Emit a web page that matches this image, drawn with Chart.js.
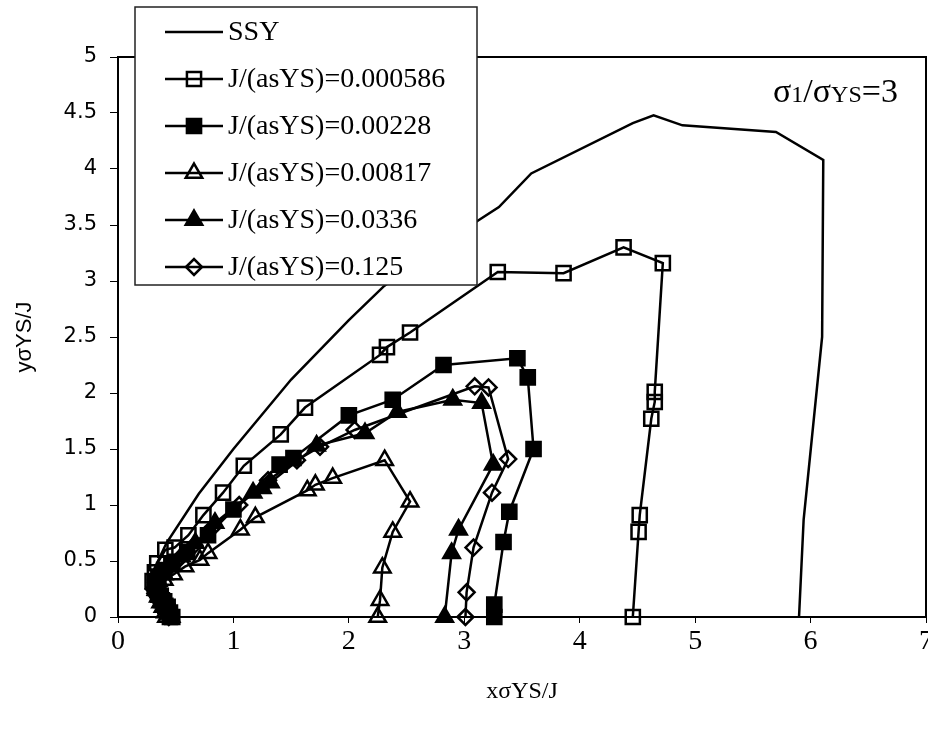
<!DOCTYPE html>
<html>
<head>
<meta charset="utf-8">
<script src="https://cdn.jsdelivr.net/npm/chart.js@4.4.1/dist/chart.umd.min.js"></script>
<style>
  html, body { margin: 0; padding: 0; background: #fff; }
</style>
</head>
<body>
<canvas id="chart" width="928" height="731"></canvas>
<script>
// legend texts, in drawing order
var seriesLabels = ['SSY', 'J/(asYS)=0.000586', 'J/(asYS)=0.00228', 'J/(asYS)=0.00817', 'J/(asYS)=0.0336', 'J/(asYS)=0.125'];
var xTitle = 'x\u03c3YS/J';
var yTitle = 'y\u03c3YS/J';

// SSY curve (no markers)
var ssyX = [0.30, 0.42, 0.70, 1.00, 1.50, 2.00, 2.30, 2.70, 3.12, 3.30, 3.58, 4.46, 4.64, 4.89, 5.70, 6.11, 6.10, 5.94, 5.90];
var ssyY = [0.40, 0.66, 1.10, 1.50, 2.12, 2.65, 2.95, 3.25, 3.54, 3.66, 3.96, 4.41, 4.48, 4.39, 4.33, 4.08, 2.50, 0.87, 0.00];

// J/(asYS)=0.000586, open squares
var s1X = [0.45, 0.43, 0.41, 0.38, 0.35, 0.32, 0.30, 0.32, 0.34, 0.41, 0.49, 0.61, 0.74, 0.91, 1.09, 1.41, 1.62, 2.27, 2.33, 2.53, 3.29, 3.86, 4.38, 4.72, 4.65, 4.65, 4.62, 4.52, 4.51, 4.46];
var s1Y = [0.00, 0.05, 0.10, 0.15, 0.20, 0.26, 0.32, 0.40, 0.48, 0.60, 0.62, 0.73, 0.91, 1.11, 1.35, 1.63, 1.87, 2.34, 2.41, 2.54, 3.08, 3.07, 3.30, 3.16, 2.01, 1.92, 1.77, 0.91, 0.76, 0.00];

// J/(asYS)=0.00228, filled squares
var s2X = [0.47, 0.45, 0.43, 0.40, 0.37, 0.34, 0.32, 0.35, 0.40, 0.47, 0.60, 0.78, 1.00, 1.40, 1.52, 2.00, 2.38, 2.82, 3.46, 3.55, 3.60, 3.39, 3.34, 3.26, 3.26];
var s2Y = [0.00, 0.04, 0.09, 0.14, 0.19, 0.24, 0.30, 0.36, 0.42, 0.48, 0.58, 0.73, 0.96, 1.36, 1.42, 1.80, 1.94, 2.25, 2.31, 2.14, 1.50, 0.94, 0.67, 0.11, 0.00];

// J/(asYS)=0.00817, open triangles
var s3X = [0.42, 0.41, 0.39, 0.37, 0.35, 0.33, 0.34, 0.40, 0.48, 0.58, 0.71, 0.78, 1.06, 1.19, 1.64, 1.71, 1.86, 2.31, 2.53, 2.38, 2.29, 2.27, 2.25];
var s3Y = [0.00, 0.04, 0.09, 0.13, 0.18, 0.24, 0.29, 0.33, 0.38, 0.45, 0.51, 0.57, 0.78, 0.89, 1.13, 1.18, 1.24, 1.40, 1.03, 0.76, 0.44, 0.15, 0.00];

// J/(asYS)=0.0336, filled triangles
var s4X = [0.46, 0.44, 0.42, 0.39, 0.36, 0.33, 0.35, 0.40, 0.45, 0.55, 0.67, 0.84, 1.17, 1.25, 1.32, 1.72, 2.14, 2.42, 2.90, 3.15, 3.25, 2.95, 2.89, 2.83];
var s4Y = [0.00, 0.05, 0.10, 0.15, 0.20, 0.26, 0.32, 0.38, 0.45, 0.54, 0.66, 0.84, 1.11, 1.15, 1.20, 1.53, 1.64, 1.83, 1.94, 1.91, 1.36, 0.78, 0.57, 0.00];

// J/(asYS)=0.125, open diamonds
var s5X = [0.44, 0.43, 0.40, 0.37, 0.34, 0.31, 0.33, 0.38, 0.44, 0.54, 0.66, 0.82, 1.05, 1.30, 1.55, 1.75, 2.05, 3.09, 3.21, 3.38, 3.24, 3.08, 3.02, 3.01];
var s5Y = [0.00, 0.04, 0.09, 0.14, 0.19, 0.25, 0.31, 0.37, 0.44, 0.53, 0.64, 0.80, 1.00, 1.22, 1.40, 1.52, 1.67, 2.06, 2.05, 1.41, 1.11, 0.62, 0.22, 0.00];

var yTickText = function (v) { return String(+v.toFixed(1)); };

function pts(xs, ys) {
  return xs.map(function (x, i) { return { x: x, y: ys[i] }; });
}

// open markers are hollow: the line shows through them
function series(label, xs, ys, style, fill, radius) {
  return {
    label: label,
    data: pts(xs, ys),
    showLine: true,
    borderColor: '#000',
    borderWidth: 2.5,
    pointStyle: style,
    pointRadius: radius,
    pointBackgroundColor: fill,
    pointBorderColor: '#000',
    pointBorderWidth: 2.5,
    clip: false
  };
}

var datasets = [
  {
    label: seriesLabels[0],
    data: pts(ssyX, ssyY),
    showLine: true,
    borderColor: '#000',
    borderWidth: 2.5,
    pointRadius: 0,
    clip: false
  },
  series(seriesLabels[1], s1X, s1Y, 'rect', 'rgba(0,0,0,0)', 10),
  series(seriesLabels[2], s2X, s2Y, 'rect', '#000', 10),
  series(seriesLabels[3], s3X, s3Y, 'triangle', 'rgba(0,0,0,0)', 9.5),
  series(seriesLabels[4], s4X, s4Y, 'triangle', '#000', 9.5),
  series(seriesLabels[5], s5X, s5Y, 'rectRot', 'rgba(0,0,0,0)', 8)
];

// box round the plot area
var frame = {
  id: 'frame',
  beforeDatasetsDraw: function (chart) {
    var a = chart.chartArea, ctx = chart.ctx;
    ctx.save();
    ctx.strokeStyle = '#000';
    ctx.lineWidth = 2;
    ctx.strokeRect(a.left, a.top, a.right - a.left, a.bottom - a.top);
    ctx.restore();
  }
};

// legend box overlapping the top left of the plot, like the original
var keyBox = {
  id: 'keyBox',
  afterDraw: function (chart) {
    var ctx = chart.ctx;
    ctx.save();
    ctx.fillStyle = '#fff';
    ctx.fillRect(135, 7, 342, 278);
    ctx.strokeStyle = '#222';
    ctx.lineWidth = 1.5;
    ctx.strokeRect(135, 7, 342, 278);
    ctx.font = '28px "Liberation Serif"';
    ctx.textBaseline = 'middle';
    chart.data.datasets.forEach(function (ds, i) {
      var y = 32 + i * 47;
      ctx.strokeStyle = '#000';
      ctx.lineWidth = 2.5;
      ctx.beginPath();
      ctx.moveTo(165, y);
      ctx.lineTo(223, y);
      ctx.stroke();
      if (ds.pointRadius > 0) {
        ctx.fillStyle = ds.pointBackgroundColor;
        ctx.strokeStyle = '#000';
        ctx.lineWidth = 2.5;
        Chart.helpers.drawPoint(ctx, {
          pointStyle: ds.pointStyle,
          rotation: 0,
          radius: ds.pointRadius,
          borderWidth: 2.5
        }, 194, y);
      }
      ctx.fillStyle = '#000';
      ctx.fillText(ds.label, 228, y + 1);
    });
    ctx.restore();
  }
};

// the sigma_1/sigma_YS note, top right
var note = {
  id: 'note',
  afterDraw: function (chart) {
    var ctx = chart.ctx;
    var parts = [['\u03c3', 34], ['1', 24], ['/\u03c3', 34], ['YS', 24], ['=3', 34]];
    var x = 773, y = 102;
    ctx.save();
    ctx.fillStyle = '#000';
    ctx.textBaseline = 'alphabetic';
    parts.forEach(function (p) {
      ctx.font = p[1] + 'px "Liberation Serif"';
      ctx.fillText(p[0], x, y);
      x += ctx.measureText(p[0]).width;
    });
    ctx.restore();
  }
};

new Chart(document.getElementById('chart'), {
  type: 'scatter',
  data: { datasets: datasets },
  options: {
    responsive: false,
    animation: false,
    layout: { autoPadding: false, padding: { top: 57, right: 2, left: 0, bottom: 0 } },
    plugins: {
      legend: { display: false },
      tooltip: { enabled: false }
    },
    scales: {
      x: {
        type: 'linear',
        min: 0,
        max: 7,
        ticks: {
          stepSize: 1,
          color: '#000',
          maxRotation: 0,
          padding: 2,
          font: { family: 'Liberation Serif', size: 28 }
        },
        grid: { drawOnChartArea: false, tickLength: 6, color: '#000' },
        border: { display: false },
        title: {
          display: true,
          text: xTitle,
          color: '#000',
          font: { family: 'Liberation Serif', size: 24 },
          padding: { top: 0, bottom: 25 }
        },
        afterFit: function (s) {
          s.height = 114;
          s.paddingLeft = 0;
          s.paddingRight = 0;
        }
      },
      y: {
        type: 'linear',
        min: 0,
        max: 5,
        ticks: {
          stepSize: 0.5,
          color: '#000',
          padding: 13,
          font: { family: 'DejaVu Sans', size: 21 },
          callback: yTickText
        },
        grid: { drawOnChartArea: false, tickLength: 8, color: '#000' },
        border: { display: false },
        title: {
          display: true,
          text: yTitle,
          color: '#000',
          font: { family: 'Liberation Sans', size: 22 },
          padding: { top: 12, bottom: 0 }
        },
        afterFit: function (s) {
          s.width = 118;
          s.paddingTop = 0;
          s.paddingBottom = 0;
        }
      }
    }
  },
  plugins: [frame, keyBox, note]
});
</script>
</body>
</html>
